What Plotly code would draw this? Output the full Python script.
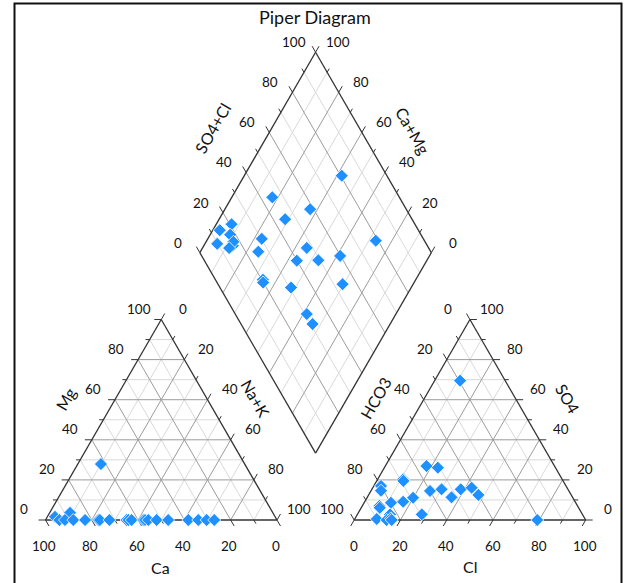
import math
import plotly.graph_objects as go

# ---------------- data (percent of meq) ----------------
# cation triangle samples
cat_ca = [95.1, 87.6, 94.0, 91.6, 88.0, 82.9, 77.2, 76.5, 72.4, 65.0, 64.2, 62.8,
          57.8, 57.0, 55.6, 52.0, 47.0, 38.3, 34.0, 30.4, 27.1, 62.1]
cat_mg = [1.6, 3.6, 0, 0, 0, 0, 0, 0, 0, 0, 0, 0,
          0, 0, 0, 0, 0, 0, 0, 0, 0, 27.9]
# anion triangle samples
an_cl = [17.8, 23.1, 11.0, 11.5, 3.1, 4.3, 25.5, 30.1, 36.4, 38.4, 42.7, 47.4,
         19.9, 16.6, 11.6, 7.4, 8.0, 14.1, 27.8, 9.5, 14.0, 15.5, 16.2, 11.0, 79.1]
an_so4 = [26.9, 26.1, 20.3, 19.5, 17.0, 14.6, 14.5, 15.3, 11.3, 15.3, 16.1, 12.5,
          11.1, 9.1, 8.6, 7.0, 6.1, 2.8, 2.8, 0.5, 0.0, 0.8, 0.0, 69.5, 0.0]
# diamond samples (Na+K, SO4+Cl)
dia_nak = [42.1, 17.5, 36.8, 28.5, 6.6, 3.0, 8.6, 5.3, 12.5, 11.8, 11.5, 23.3, 25.0,
           73.0, 45.0, 43.9, 53.1, 61.4, 34.0, 34.8, 48.1, 69.5, 61.5, 66.5]
dia_so4cl = [80.5, 45.1, 58.5, 45.2, 20.8, 14.2, 17.6, 9.7, 16.0, 17.2, 13.8, 30.2, 25.5,
             79.0, 47.4, 39.9, 49.3, 59.8, 20.5, 19.9, 30.7, 53.8, 30.9, 30.9]

tick_vals = [0, 20, 40, 60, 80, 100]
tick_text = ["0", "20", "40", "60", "80", "100"]

# ---------------- geometry ----------------
H = math.sqrt(3) / 2
G = 100 / 3          # gap between triangles
OX = 100 + G         # x origin of anion triangle
S = 2.315            # px per unit (for label offsets)
X0PX, Y0PX = 45.5, 520.0
W, HT = 625, 583

Bd = (100 + G / 2, G * H)
Ld = (Bd[0] - 50, Bd[1] + 100 * H)
Td = (Bd[0], Bd[1] + 200 * H)
Rd = (Bd[0] + 50, Bd[1] + 100 * H)


def cat_xy(ca, mg):
    nak = 100 - ca - mg
    return nak + mg / 2, mg * H


def an_xy(cl, so4):
    return OX + cl + so4 / 2, so4 * H


def dia_xy(nak, s):
    return Ld[0] + (nak + s) / 2, Ld[1] + (s - nak) * H


def lerp(p, q, t):
    return (p[0] + (q[0] - p[0]) * t, p[1] + (q[1] - p[1]) * t)


fig = go.Figure()


def add_lines(segs, color, width):
    xs, ys = [], []
    for (a, b) in segs:
        xs += [a[0], b[0], None]
        ys += [a[1], b[1], None]
    fig.add_trace(go.Scatter(x=xs, y=ys, mode="lines", hoverinfo="skip",
                             line=dict(color=color, width=width), showlegend=False))


def tri_grid(A, B, C, minor):
    segs = []
    for i in range(10, 100, 10):
        if (i % 20 != 0) != minor:
            continue
        t = i / 100
        segs.append((lerp(B, A, t), lerp(C, A, t)))
        segs.append((lerp(A, B, t), lerp(C, B, t)))
        segs.append((lerp(A, C, t), lerp(B, C, t)))
    return segs


def dia_grid(minor):
    segs = []
    for i in range(10, 100, 10):
        if (i % 20 != 0) != minor:
            continue
        segs.append((dia_xy(i, 0), dia_xy(i, 100)))
        segs.append((dia_xy(0, i), dia_xy(100, i)))
    return segs


LA, LB, LC = (0, 0), (100, 0), (50, 100 * H)
RA, RB, RC = (OX, 0), (OX + 100, 0), (OX + 50, 100 * H)

for minor, col in [(True, "#d9d9d9"), (False, "#9c9c9c")]:
    segs = tri_grid(LA, LB, LC, minor) + tri_grid(RA, RB, RC, minor) + dia_grid(minor)
    add_lines(segs, col, 1)

# ticks
ticks_all = []


def add_tick(p, d, v):
    ln = 3.0 if v % 20 == 0 else 1.8
    ticks_all.append((p, (p[0] + d[0] * ln, p[1] + d[1] * ln)))


for v in range(0, 101, 10):
    add_tick((100 - v, 0), (0.5, -H), v)                        # Ca
    add_tick((v / 2, v * H), (-1, 0), v)                         # Mg
    add_tick((v + (100 - v) / 2, (100 - v) * H), (0.5, H), v)    # Na+K
    add_tick((OX + v, 0), (-0.5, -H), v)                         # Cl
    add_tick((OX + (100 - v) / 2, (100 - v) * H), (-0.5, H), v)  # HCO3
    add_tick((OX + 100 - v / 2, v * H), (1, 0), v)               # SO4
    add_tick(dia_xy(0, v), (-0.5, H), v)                         # SO4+Cl
    add_tick(dia_xy(100 - v, 100), (0.5, H), v)                  # Ca+Mg

add_lines(ticks_all, "#333333", 1)

# outlines
edges = [(LA, LB), (LB, LC), (LC, LA), (RA, RB), (RB, RC), (RC, RA),
         (Ld, Td), (Td, Rd), (Rd, Bd), (Bd, Ld)]
add_lines(edges, "#333333", 1.3)

# data points
mk = dict(symbol="diamond", size=10, color="#1E90FF", line=dict(color="white", width=0.8))
cx, cy = zip(*[cat_xy(a, b) for a, b in zip(cat_ca, cat_mg)])
ax_, ay_ = zip(*[an_xy(a, b) for a, b in zip(an_cl, an_so4)])
dx, dy = zip(*[dia_xy(a, b) for a, b in zip(dia_nak, dia_so4cl)])
for xs, ys in [(cx, cy), (ax_, ay_), (dx, dy)]:
    fig.add_trace(go.Scatter(x=list(xs), y=list(ys), mode="markers", marker=mk,
                             showlegend=False, hoverinfo="skip"))

# ---------------- labels ----------------
FONT = "Lato"
ann = []


def lab(p, offpx, text, size=13.5, angle=0):
    x = p[0] + offpx[0] / S
    y = p[1] - offpx[1] / S
    ann.append(dict(x=x, y=y, xref="x", yref="y", text=text, showarrow=False,
                    xanchor="center", yanchor="middle", textangle=angle,
                    font=dict(family=FONT, size=size, color="#111111")))


for v, t in zip(tick_vals, tick_text):
    lab((100 - v, 0), (-1.5, 26), t)                          # Ca
    lab((v / 2, v * H), (-22, -11), t)                         # Mg
    lab((v + (100 - v) / 2, (100 - v) * H), (22, -11), t)      # Na+K
    lab((OX + v, 0), (-0.5, 26), t)                            # Cl
    lab((OX + (100 - v) / 2, (100 - v) * H), (-22, -11), t)    # HCO3
    lab((OX + 100 - v / 2, v * H), (22, -11), t)               # SO4
    lab(dia_xy(0, v), (-22, -10), t)                           # SO4+Cl
    lab(dia_xy(100 - v, 100), (22, -10), t)                    # Ca+Mg


def px(xp, yp):
    return ((xp - X0PX) / S, (Y0PX - yp) / S)


lab(px(160, 567), (0, 0), "Ca", 16)
lab(px(470, 566), (0, 0), "Cl", 16)
lab(px(65, 399), (0, 0), "Mg", 16, -60)
lab(px(256, 398), (0, 0), "Na+K", 16, 60)
lab(px(375, 398), (0, 0), "HCO3", 16, -60)
lab(px(568, 398), (0, 0), "SO4", 16, 60)
lab(px(212, 128), (0, 0), "SO4+Cl", 16, -60)
lab(px(413, 130), (0, 0), "Ca+Mg", 16, 60)
lab(px(315, 17), (0, 0), "Piper Diagram", 18)

xr = [(0 - X0PX) / S, (W - X0PX) / S]
yr = [(Y0PX - HT) / S, Y0PX / S]

fig.update_layout(
    width=W, height=HT, autosize=False,
    margin=dict(l=0, r=0, t=0, b=0),
    paper_bgcolor="white", plot_bgcolor="white",
    xaxis=dict(range=xr, visible=False, fixedrange=True),
    yaxis=dict(range=yr, visible=False, fixedrange=True),
    annotations=ann,
    shapes=[dict(type="rect", xref="paper", yref="paper",
                 x0=14.5 / W, x1=621.5 / W, y0=-0.05, y1=1 - 3.5 / HT,
                 line=dict(color="#111111", width=2), fillcolor="rgba(0,0,0,0)")],
)

fig.write_html(
    "out.html",
    config={"displayModeBar": False},
    post_script="document.body.style.margin='0';document.body.style.overflow='hidden';",
)
